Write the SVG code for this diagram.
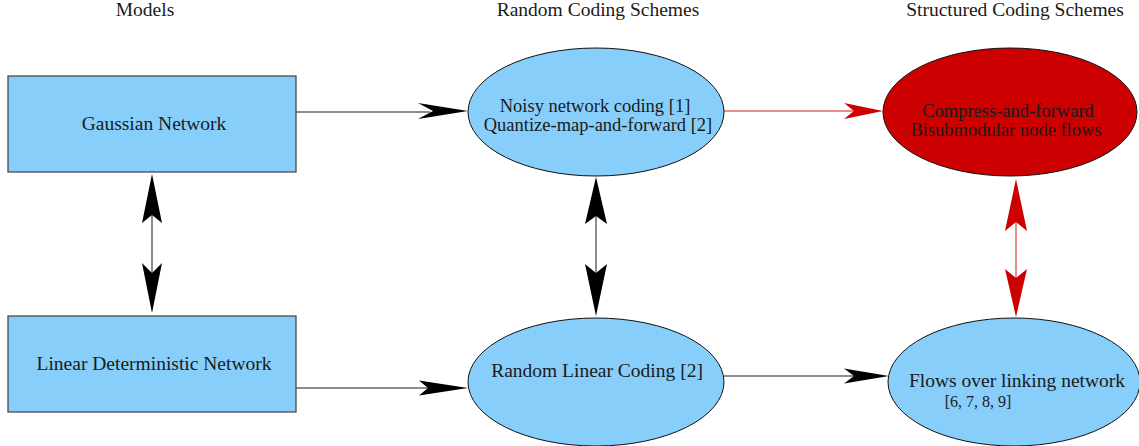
<svg xmlns="http://www.w3.org/2000/svg" width="1139" height="446" viewBox="0 0 1139 446">
<style>
text{font-family:"Liberation Serif","DejaVu Serif",serif;font-size:19.5px;fill:#1a1a1a;text-anchor:middle}
.small{font-size:16px}
.two{font-size:18.5px}
.box{fill:#87CEFA;stroke:#4a4a4a;stroke-width:1.3}
.ell{fill:#87CEFA;stroke:#111;stroke-width:1}
.redell{fill:#CC0000;stroke:#111;stroke-width:1}
.ln{stroke:#666;stroke-width:1.5;fill:none}
.rln{stroke:#e06666;stroke-width:1.5;fill:none}
.hd{fill:#000}
.rhd{fill:#CC0000}
</style>
<rect width="1139" height="446" fill="#fff"/>
<g id="headers">
<text x="145" y="16">Models</text>
<text x="598" y="16">Random Coding Schemes</text>
<text x="1015" y="16">Structured Coding Schemes</text>
</g>
<g id="connectors">
<line class="ln" x1="296" y1="112" x2="430" y2="112"/>
<path class="hd" d="M468,111 L418,103 L433,111 L418,119 Z"/>
<line class="ln" x1="296" y1="388" x2="428" y2="388"/>
<path class="hd" d="M468,388 L419,380.5 L428,388 L419,395.5 Z"/>
<line class="ln" x1="724" y1="376" x2="854" y2="376"/>
<path class="hd" d="M889,376 L844,368.5 L854,376 L844,383.5 Z"/>
<line class="rln" x1="724" y1="111" x2="854" y2="111"/>
<path class="rhd" d="M883,111 L844,103 L854,111 L844,119 Z"/>
<line class="ln" x1="152" y1="215" x2="152" y2="273"/>
<path class="hd" d="M152,174 L142,223 L152,215 L162,223 Z"/>
<path class="hd" d="M152,313 L142,263 L152,273 L162,263 Z"/>
<line class="ln" x1="596" y1="216" x2="596" y2="273"/>
<path class="hd" d="M596,177 L585,224 L596,216 L607,224 Z"/>
<path class="hd" d="M596,316 L585,264 L596,273 L607,264 Z"/>
<line class="rln" x1="1016" y1="222" x2="1016" y2="278"/>
<path class="rhd" d="M1016,179 L1005,231 L1016,222 L1027,231 Z"/>
<path class="rhd" d="M1016,317 L1005,269 L1016,278 L1027,269 Z"/>
</g>
<g id="gaussian">
<rect class="box" x="8" y="76" width="288" height="96"/>
<text x="154" y="130">Gaussian Network</text>
</g>
<g id="linear-deterministic">
<rect class="box" x="8" y="316" width="288" height="96"/>
<text x="154" y="370">Linear Deterministic Network</text>
</g>
<g id="noisy">
<ellipse class="ell" cx="596" cy="112" rx="128" ry="64"/>
<text class="two" x="595" y="112">Noisy network coding [1]</text>
<text class="two" x="598" y="131">Quantize-map-and-forward [2]</text>
</g>
<g id="random-linear">
<ellipse class="ell" cx="596" cy="382" rx="128" ry="64"/>
<text x="597" y="377">Random Linear Coding [2]</text>
</g>
<g id="compress">
<ellipse class="redell" cx="1010" cy="112" rx="127" ry="64"/>
<text class="two" x="1008" y="117">Compress-and-forward</text>
<text class="two" x="1006" y="136">Bisubmodular node flows</text>
</g>
<g id="flows">
<ellipse class="ell" cx="1014" cy="382" rx="126" ry="64"/>
<text x="1017" y="387">Flows over linking network</text>
<text class="small" x="978" y="407">[6, 7, 8, 9]</text>
</g>
</svg>
